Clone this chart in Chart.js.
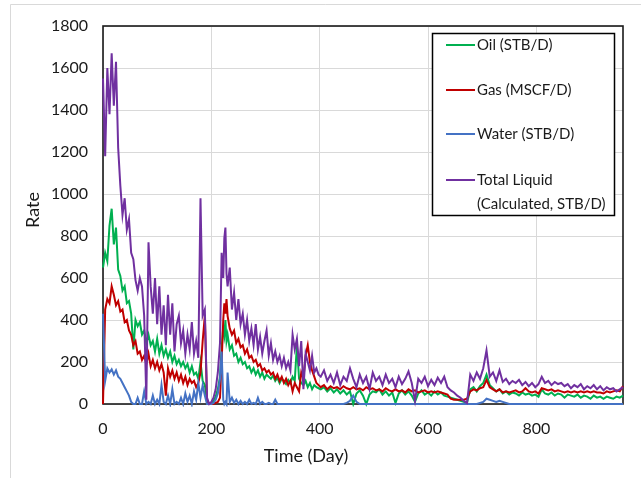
<!DOCTYPE html>
<html lang="en">
<head>
<meta charset="UTF-8">
<title>Production Rate vs Time</title>
<script src="https://cdn.jsdelivr.net/npm/chart.js"></script>
<style>
    html, body {
        margin: 0;
        padding: 0;
        background: #fff;
    }
    .chart-box {
        position: relative;
        width: 641px;
        height: 478px;
    }
</style>
</head>
<body>
<div class="chart-box">
    <canvas id="rateChart" width="641" height="478"></canvas>
</div>
<script>
// sample days (time axis)
const days = [
    // first production period
    0, 4, 8, 12, 16, 20, 24, 28, 32, 36,
    40, 44, 48, 52, 56, 60, 64, 68, 72, 76,
    80, 84, 88, 92, 96, 100, 104, 108, 112, 116,
    120, 124, 128, 132, 136, 140, 144, 148, 152, 156,
    160, 164, 168, 172, 176, 180, 184, 188, 192, 196,
    // restart
    200, 204, 208, 212, 216, 219, 222, 224, 226, 228,
    230, 234, 238, 242, 246, 250, 254, 258, 262, 266,
    270, 274, 278, 282, 286, 290, 294, 298, 302, 306,
    310, 314, 318, 322, 326, 330, 334, 338, 342, 346,
    350, 354, 358, 362, 366, 370, 374, 378, 382, 386,
    390, 394, 398,
    // late life
    402, 408, 414, 420, 426, 432, 438, 444, 450, 456,
    462, 468, 474, 480, 486, 492, 498, 504, 510, 516,
    522, 528, 534, 540, 546, 552, 558, 564, 570, 576,
    582, 588, 594, 600, 606, 612, 618, 624, 630, 636,
    642, 648, 654, 660, 666, 672, 678, 684, 690, 696,
    702, 708, 714, 720, 726, 732, 738, 744, 750, 756,
    762, 768, 774, 780, 786, 792, 798, 804, 810, 816,
    822, 828, 834, 840, 846, 852, 858, 864, 870, 876,
    882, 888, 894, 900, 906, 912, 918, 924, 930, 936,
    942, 948, 954, 960
];

const oilRate = [
    650, 720, 680, 850, 930, 760, 840, 640, 610, 540,
    560, 480, 490, 430, 260, 400, 370, 390, 330, 350,
    290, 330, 280, 300, 250, 310, 240, 280, 230, 260,
    220, 250, 200, 230, 190, 210, 180, 200, 170, 190,
    150, 180, 140, 150, 120, 200, 110, 90, 10, 0,
    5, 15, 35, 70, 130, 260, 370, 330, 400, 300,
    330, 260, 280, 230, 240, 200, 220, 190, 200, 170,
    180, 150, 170, 140, 160, 130, 150, 120, 140, 130,
    120, 135, 110, 125, 100, 120, 110, 95, 115, 100,
    130, 110, 280, 120, 100, 90, 110, 80, 100, 70,
    90, 80, 75,
    70, 80, 60, 75, 55, 70, 50, 65, 45, 60,
    0, 50, 65, 40, 0, 45, 60, 55, 70, 45,
    60, 40, 55, 5, 50, 65, 45, 60, 40, 10,
    50, 65, 45, 55, 40, 60, 45, 55, 40, 35,
    30, 25, 20, 15, 10, 5, 70, 80, 60, 85,
    100, 140, 90, 75, 60, 70, 50, 60, 45, 55,
    50, 40, 55, 45, 50, 40, 45, 35, 70, 50,
    45, 55, 40, 50, 45, 30, 45, 40, 35, 45,
    30, 40, 35, 25, 40, 30, 35, 25, 35, 30,
    25, 35, 30, 40
];

const gasRate = [
    0, 450, 500, 480, 560, 520, 470, 490, 440, 450,
    390, 400, 350, 330, 280, 300, 240, 250, 210, 230,
    190, 240, 180, 210, 170, 200, 160, 190, 150, 40,
    170, 130, 160, 120, 150, 110, 140, 100, 130, 90,
    120, 100, 110, 80, 100, 150, 300, 420, 20, 0,
    0, 0, 5, 10, 30, 200, 400, 480, 430, 500,
    420, 360, 330, 350, 290, 310, 270, 280, 240, 260,
    220, 230, 200, 210, 180, 190, 160, 170, 150, 160,
    140, 150, 120, 140, 110, 130, 100, 120, 90, 110,
    60, 100, 80, 60, 150, 120, 230, 280, 200, 160,
    130, 100, 90,
    80, 90, 70, 85, 75, 80, 70, 85, 75, 70,
    80, 70, 75, 65, 80, 70, 75, 65, 70, 60,
    75, 65, 60, 70, 60, 65, 55, 70, 60, 65,
    55, 60, 65, 55, 60, 55, 60, 55, 50, 45,
    25, 20, 20, 20, 20, 25, 60, 70, 65, 75,
    80, 115, 80, 70, 60, 70, 55, 60, 55, 60,
    65, 55, 60, 75, 60, 55, 60, 50, 75, 70,
    65, 70, 60, 65, 60, 55, 60, 55, 60, 55,
    60, 55, 60, 55, 60, 55, 55, 50, 60, 55,
    60, 65, 60, 85
];

const waterRate = [
    430, 110, 170, 150, 165, 140, 160, 130, 120, 100,
    80, 60, 40, 10, 0, 0, 30, 0, 0, 60,
    0, 10, 0, 40, 0, 20, 0, 90, 10, 0,
    40, 0, 70, 0, 10, 0, 30, 0, 50, 10,
    40, 0, 60, 20, 100, 30, 90, 40, 0, 0,
    0, 5, 20, 50, 120, 250, 20, 0, 10, 0,
    150, 10, 30, 5, 20, 0, 15, 0, 10, 0,
    20, 0, 5, 0, 30, 0, 10, 0, 0, 5,
    0, 0, 20, 0, 0, 0, 0, 0, 0, 0,
    0, 0, 0, 0, 0, 0, 0, 0, 0, 0,
    0, 0, 0,
    0, 0, 0, 0, 0, 0, 0, 0, 5, 15,
    40, 10, 0, 0, 0, 0, 0, 0, 0, 0,
    0, 0, 0, 0, 0, 0, 0, 0, 0, 0,
    0, 0, 0, 0, 0, 0, 0, 0, 0, 0,
    0, 0, 0, 0, 0, 0, 0, 0, 0, 5,
    10, 25, 20, 15, 10, 15, 10, 5, 0, 0,
    0, 0, 0, 0, 0, 0, 0, 0, 0, 0,
    0, 0, 0, 0, 0, 0, 0, 0, 0, 0,
    0, 0, 0, 0, 0, 0, 0, 0, 0, 0,
    0, 0, 0, 0
];

const totalLiquid = [
    1550, 1180, 1600, 1380, 1670, 1420, 1630, 1220, 1040, 900,
    980, 830, 880, 720, 690, 590, 540, 600, 560, 420,
    20, 770, 560, 430, 600, 380, 560, 330, 470, 280,
    520, 330, 480, 250, 380, 420, 290, 350, 240, 330,
    260, 390, 240, 300, 220, 980, 420, 450, 30, 0,
    10, 30, 70, 150, 290, 720, 600, 790, 840, 620,
    560, 650, 450, 530, 400, 500, 380, 430, 330, 400,
    300, 360, 280, 380, 260, 320, 240, 300, 350, 230,
    290, 210, 250, 200, 230, 180, 220, 170, 200, 160,
    330, 260, 310, 180, 300, 70, 240, 200, 160, 230,
    150, 170, 140,
    130, 160, 110, 140, 100, 150, 90, 130, 110, 170,
    120, 80, 140, 100, 130, 70, 150, 110, 130, 90,
    140, 100, 120, 80, 130, 95, 120, 155, 100, 15,
    120, 100, 130, 85, 115, 90, 125, 100, 130, 80,
    65, 55, 40, 30, 15, 5, 140, 110, 150, 120,
    170, 255, 130, 150, 110, 160, 105, 120, 95, 110,
    100, 115, 90, 105, 85, 100, 80, 95, 130, 100,
    110, 90, 105, 95, 100, 85, 95, 75, 90, 80,
    95, 70, 85, 75, 90, 70, 85, 65, 80, 70,
    75, 60, 70, 80
];

const seriesLabels = ['Oil (STB/D)', 'Gas (MSCF/D)', 'Water (STB/D)', ['Total Liquid', '(Calculated, STB/D)']];
const seriesColors = ['#00b050', '#c00000', '#4472c4', '#7030a0'];

const xTicks = [0, 200, 400, 600, 800];
const yTicks = [0, 200, 400, 600, 800, 1000, 1200, 1400, 1600, 1800];
const xAxisTitle = 'Time (Day)';
const yAxisTitle = 'Rate';

const FONT = 'Lato, "Open Sans", sans-serif';

function toPoints(values) {
    return days.map((d, i) => ({ x: d, y: values[i] }));
}

function makeDataset(idx, values) {
    return {
        label: Array.isArray(seriesLabels[idx]) ? seriesLabels[idx].join(' ') : seriesLabels[idx],
        data: toPoints(values),
        showLine: true,
        borderColor: seriesColors[idx],
        backgroundColor: seriesColors[idx],
        borderWidth: 2,
        pointRadius: 0,
        tension: 0,
        clip: 3
    };
}

// outer chart frame, plot frame, axis titles and legend box
const frameAndLegend = {
    id: 'frameAndLegend',
    beforeDraw(chart) {
        const ctx = chart.ctx;
        ctx.save();
        ctx.fillStyle = '#fff';
        ctx.fillRect(0, 0, chart.width, chart.height);
        ctx.strokeStyle = '#d9d9d9';
        ctx.lineWidth = 1;
        ctx.beginPath();
        ctx.moveTo(10.5, chart.height);
        ctx.lineTo(10.5, 4.5);
        ctx.lineTo(chart.width, 4.5);
        ctx.stroke();
        ctx.restore();
    },
    beforeDatasetsDraw(chart) {
        const { ctx, chartArea: a } = chart;
        ctx.save();
        ctx.strokeStyle = '#1a1a1a';
        ctx.lineWidth = 1.6;
        ctx.strokeRect(a.left, a.top, a.right - a.left, a.bottom - a.top);
        ctx.restore();
    },
    afterDraw(chart) {
        const ctx = chart.ctx;
        ctx.save();

        // axis titles
        ctx.fillStyle = '#1a1a1a';
        ctx.textAlign = 'center';
        ctx.textBaseline = 'middle';
        ctx.font = '18px ' + FONT;
        ctx.fillText(xAxisTitle, 306, 456);
        ctx.translate(33, 210);
        ctx.rotate(-Math.PI / 2);
        ctx.fillText(yAxisTitle, 0, 0);
        ctx.setTransform(1, 0, 0, 1, 0, 0);

        // legend
        const box = { x: 432.5, y: 33.5, w: 182, h: 182 };
        ctx.fillStyle = '#fff';
        ctx.fillRect(box.x, box.y, box.w, box.h);
        ctx.strokeStyle = '#000';
        ctx.lineWidth = 1.5;
        ctx.strokeRect(box.x, box.y, box.w, box.h);

        const rowY = [45, 90, 134, 180];
        ctx.font = '15px ' + FONT;
        ctx.textAlign = 'left';
        seriesLabels.forEach((lbl, i) => {
            const y = rowY[i];
            ctx.strokeStyle = seriesColors[i];
            ctx.lineWidth = 2;
            ctx.beginPath();
            ctx.moveTo(446, y);
            ctx.lineTo(475, y);
            ctx.stroke();
            ctx.fillStyle = '#1a1a1a';
            const lines = Array.isArray(lbl) ? lbl : [lbl];
            lines.forEach((t, k) => ctx.fillText(t, 477, y + k * 24));
        });
        ctx.restore();
    }
};

const tickFont = { family: FONT, size: 16 };

new Chart(document.getElementById('rateChart'), {
    type: 'scatter',
    data: {
        // drawn last-to-first, so total liquid ends on top
        datasets: [
            makeDataset(3, totalLiquid),
            makeDataset(2, waterRate),
            makeDataset(1, gasRate),
            makeDataset(0, oilRate)
        ]
    },
    options: {
        responsive: false,
        animation: false,
        layout: { padding: { top: 26, right: 18, left: 0, bottom: 0 } },
        plugins: {
            legend: { display: false },
            tooltip: { enabled: false }
        },
        scales: {
            x: {
                type: 'linear',
                min: 0,
                max: 960,
                afterFit(scale) { scale.height = 74; },
                afterBuildTicks(scale) { scale.ticks = xTicks.map(v => ({ value: v })); },
                border: { display: false },
                grid: { color: '#d9d9d9', lineWidth: 1, drawTicks: false },
                ticks: {
                    padding: 15,
                    maxRotation: 0,
                    autoSkip: false,
                    color: '#1a1a1a',
                    font: tickFont,
                    callback: v => String(v)
                }
            },
            y: {
                type: 'linear',
                min: 0,
                max: 1800,
                afterFit(scale) { scale.width = 103; },
                afterBuildTicks(scale) { scale.ticks = yTicks.map(v => ({ value: v })); },
                border: { display: false },
                grid: { color: '#d9d9d9', lineWidth: 1, drawTicks: false },
                ticks: {
                    padding: 15,
                    autoSkip: false,
                    color: '#1a1a1a',
                    font: tickFont,
                    callback: v => String(v)
                }
            }
        }
    },
    plugins: [frameAndLegend]
});
</script>
</body>
</html>
